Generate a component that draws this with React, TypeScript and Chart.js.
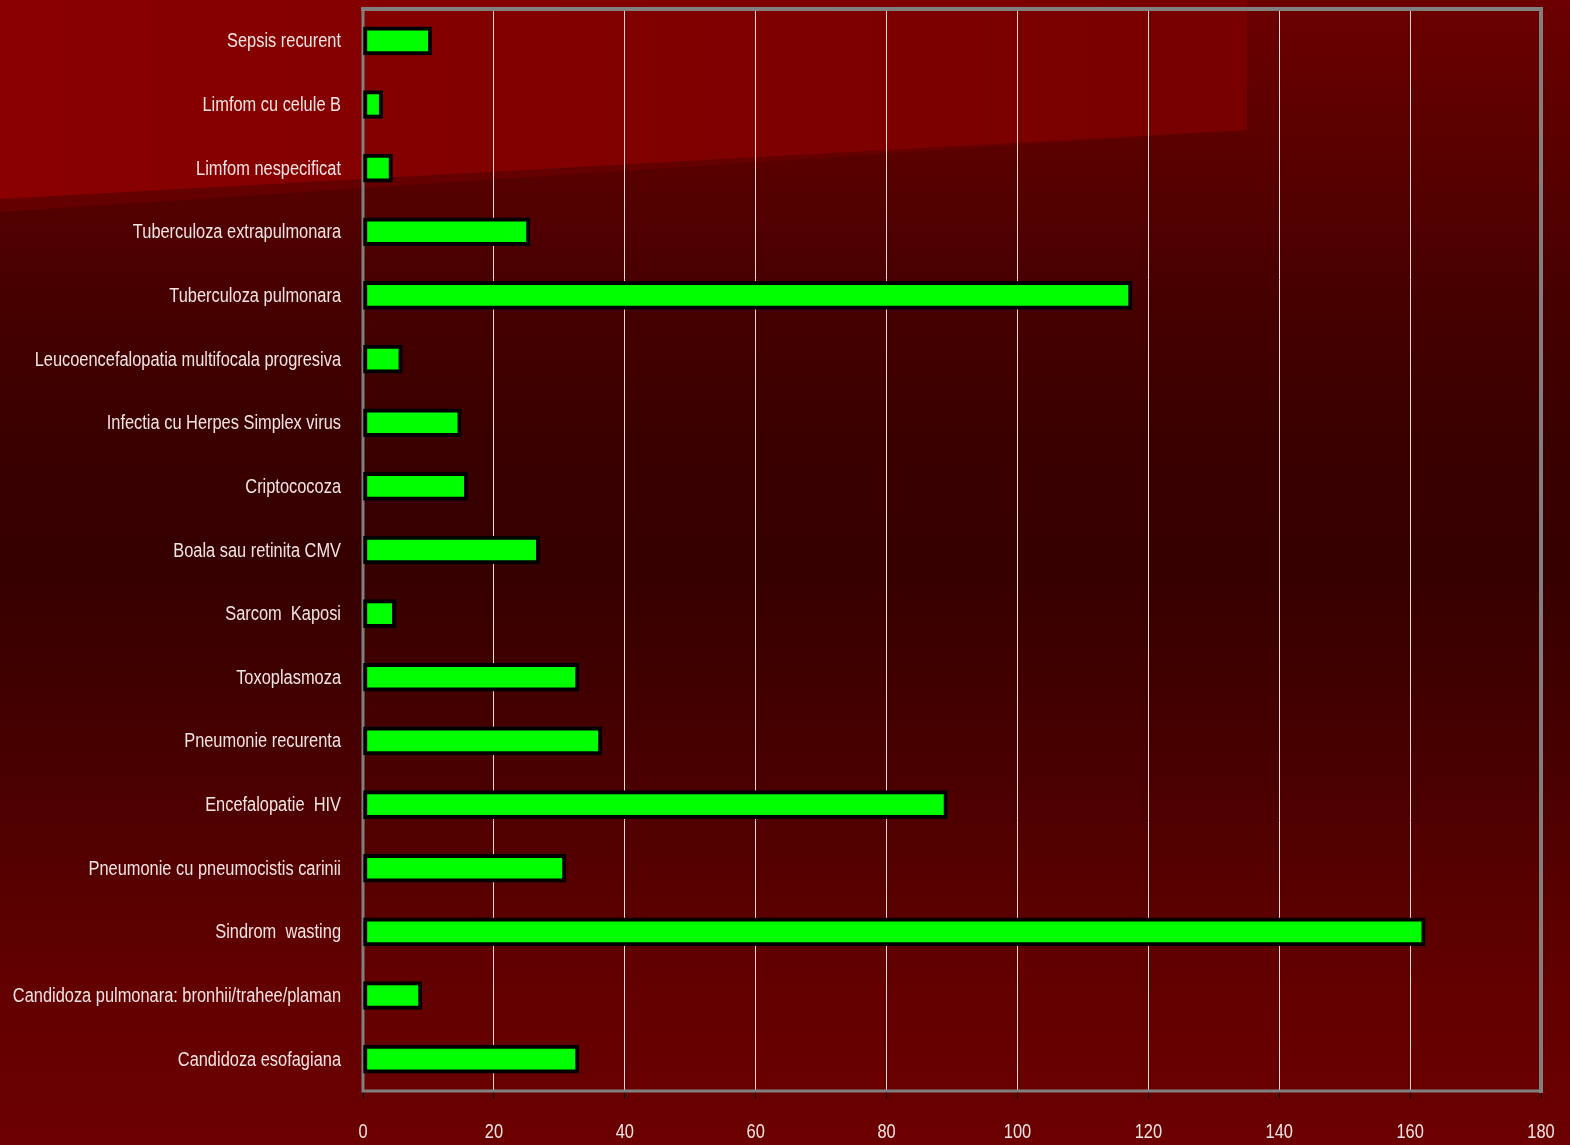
import React, { useEffect, useRef } from "react";
import { Chart, registerables } from "chart.js";

Chart.register(...registerables);

const categories: string[] = [
  "Sepsis recurent",
  "Limfom cu celule B",
  "Limfom nespecificat",
  "Tuberculoza extrapulmonara",
  "Tuberculoza pulmonara",
  "Leucoencefalopatia multifocala progresiva",
  "Infectia cu Herpes Simplex virus",
  "Criptococoza",
  "Boala sau retinita CMV",
  "Sarcom  Kaposi",
  "Toxoplasmoza",
  "Pneumonie recurenta",
  "Encefalopatie  HIV",
  "Pneumonie cu pneumocistis carinii",
  "Sindrom  wasting",
  "Candidoza pulmonara: bronhii/trahee/plaman",
  "Candidoza esofagiana",
];

const cases: number[] = [10.5, 3, 4.5, 25.5, 117.5, 6, 15, 16, 27, 5, 33, 36.5, 89.3, 31, 162.3, 9, 33];

const xMin = 0;
const xMax = 180;
const xStep = 20;

const W = 1570;
const H = 1145;
const FONT = '"Liberation Sans", Arial, sans-serif';
const TEXT = "#f2e4e4";
const SQUEEZE = 0.82;

const backgroundPlugin = {
  id: "bgPlugin",
  beforeDraw(chart: any) {
    const ctx = chart.ctx as CanvasRenderingContext2D;
    ctx.save();
    const g = ctx.createLinearGradient(0, 0, 0, H);
    g.addColorStop(0, "#6c0000");
    g.addColorStop(0.13, "#5a0000");
    g.addColorStop(0.25, "#480000");
    g.addColorStop(0.38, "#3a0000");
    g.addColorStop(0.5, "#360000");
    g.addColorStop(0.68, "#4a0000");
    g.addColorStop(0.85, "#620000");
    g.addColorStop(1, "#6c0000");
    ctx.fillStyle = g;
    ctx.fillRect(0, 0, W, H);
    ctx.fillStyle = "#640000";
    ctx.beginPath();
    ctx.moveTo(0, 0);
    ctx.lineTo(1247, 0);
    ctx.lineTo(1247, 130);
    ctx.lineTo(0, 212);
    ctx.closePath();
    ctx.fill();
    const pg = ctx.createLinearGradient(0, 0, 1247, 0);
    pg.addColorStop(0, "#8a0000");
    pg.addColorStop(1, "#780000");
    ctx.fillStyle = pg;
    ctx.beginPath();
    ctx.moveTo(0, 0);
    ctx.lineTo(1247, 0);
    ctx.lineTo(1247, 130);
    ctx.lineTo(0, 199);
    ctx.closePath();
    ctx.fill();
    ctx.restore();
  },
  beforeDatasetsDraw(chart: any) {
    const ctx = chart.ctx as CanvasRenderingContext2D;
    const a = chart.chartArea;
    ctx.save();
    ctx.strokeStyle = "#808080";
    ctx.lineCap = "square";
    ctx.lineWidth = 4;
    ctx.beginPath();
    ctx.moveTo(a.left, a.top);
    ctx.lineTo(a.right, a.top);
    ctx.lineTo(a.right, a.bottom);
    ctx.stroke();
    ctx.lineWidth = 3;
    ctx.beginPath();
    ctx.moveTo(a.left, a.top);
    ctx.lineTo(a.left, a.bottom);
    ctx.lineTo(a.right, a.bottom);
    ctx.stroke();
    ctx.restore();
  },
  afterDraw(chart: any) {
    const ctx = chart.ctx as CanvasRenderingContext2D;
    const ys = chart.scales.y;
    const xs = chart.scales.x;
    ctx.save();
    ctx.fillStyle = TEXT;
    ctx.font = `20px ${FONT}`;
    ctx.textBaseline = "middle";
    ctx.textAlign = "right";
    const labels = chart.data.labels as string[];
    labels.forEach((lab, i) => {
      const y = ys.getPixelForTick(i);
      ctx.save();
      ctx.translate(341, y + 1);
      ctx.scale(SQUEEZE, 1);
      ctx.fillText(lab, 0, 0);
      ctx.restore();
    });
    ctx.textAlign = "center";
    xs.ticks.forEach((t: any, i: number) => {
      const x = xs.getPixelForTick(i);
      ctx.save();
      ctx.translate(x, 1132);
      ctx.scale(SQUEEZE, 1);
      ctx.fillText(String(t.value), 0, 0);
      ctx.restore();
    });
    ctx.restore();
  },
};

export default function App() {
  const ref = useRef<HTMLCanvasElement | null>(null);
  useEffect(() => {
    if (!ref.current) return;
    const chart = new Chart(ref.current, {
      type: "bar",
      data: {
        labels: categories,
        datasets: [
          {
            data: cases,
            backgroundColor: "#00ff00",
            borderColor: "#000000",
            borderWidth: 4,
            borderSkipped: false,
            barThickness: 28,
          },
        ],
      },
      options: {
        indexAxis: "y",
        responsive: false,
        animation: false,
        devicePixelRatio: 1,
        layout: { padding: { top: 9, right: 29, left: 0, bottom: 0 } },
        plugins: { legend: { display: false }, tooltip: { enabled: false } },
        scales: {
          y: {
            grid: { display: false },
            border: { display: false },
            ticks: { display: false },
            afterFit: (s: any) => {
              s.width = 363;
              s.paddingTop = 0;
              s.paddingBottom = 0;
            },
          },
          x: {
            min: xMin,
            max: xMax,
            grid: { color: "#f4d8d8", lineWidth: 1, tickColor: "#000000", tickLength: 7 },
            border: { display: false },
            ticks: { stepSize: xStep, display: false },
            afterFit: (s: any) => {
              s.height = 54;
              s.paddingLeft = 0;
              s.paddingRight = 0;
            },
          },
        },
      },
      plugins: [backgroundPlugin],
    } as any);
    return () => chart.destroy();
  }, []);
  return (
    <div style={{ position: "fixed", left: 0, top: 0, width: W, height: H }}>
      <canvas ref={ref} width={W} height={H} style={{ display: "block" }} />
    </div>
  );
}
